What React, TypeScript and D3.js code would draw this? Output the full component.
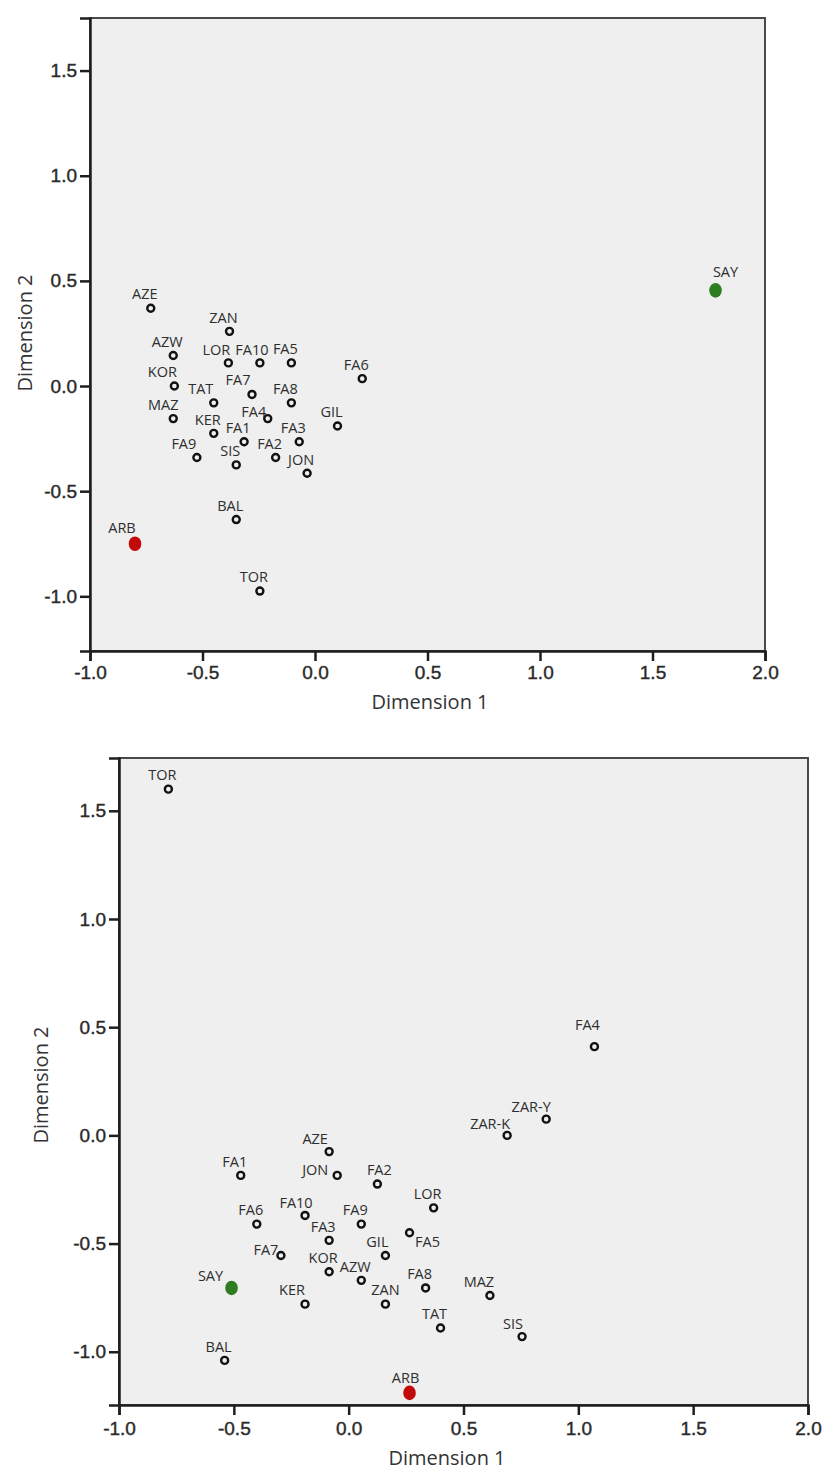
import * as d3 from "d3";
import { useEffect, useRef } from "react";

// first MDS configuration (top plot)
const topNames = ["AZE", "ZAN", "AZW", "LOR", "FA10", "FA5", "FA6", "KOR", "TAT", "FA7", "FA8", "MAZ", "FA4", "GIL", "KER", "FA1", "FA3", "FA9", "FA2", "SIS", "JON", "BAL", "ARB", "TOR", "SAY"];
const topDim1 = [-0.73, -0.38, -0.63, -0.385, -0.245, -0.105, 0.21, -0.625, -0.45, -0.28, -0.105, -0.63, -0.21, 0.1, -0.45, -0.315, -0.07, -0.525, -0.175, -0.35, -0.035, -0.35, -0.8, -0.245, 1.78];
const topDim2 = [0.37, 0.26, 0.145, 0.11, 0.11, 0.11, 0.035, 0.0, -0.08, -0.04, -0.08, -0.155, -0.155, -0.19, -0.225, -0.265, -0.265, -0.34, -0.34, -0.375, -0.415, -0.635, -0.75, -0.975, 0.455];

// second MDS configuration (bottom plot)
const bottomNames = ["TOR", "FA4", "ZAR-Y", "ZAR-K", "AZE", "FA1", "JON", "FA2", "LOR", "FA10", "FA6", "FA9", "FA5", "FA3", "GIL", "FA7", "KOR", "AZW", "FA8", "SAY", "MAZ", "KER", "ZAN", "TAT", "SIS", "BAL", "ARB"];
const bottomDim1 = [-0.785, 1.07, 0.86, 0.69, -0.085, -0.47, -0.05, 0.125, 0.37, -0.19, -0.4, 0.055, 0.265, -0.085, 0.16, -0.295, -0.085, 0.055, 0.335, -0.51, 0.615, -0.19, 0.16, 0.4, 0.755, -0.54, 0.265];
const bottomDim2 = [1.6, 0.41, 0.075, 0.0, -0.075, -0.185, -0.185, -0.225, -0.335, -0.37, -0.41, -0.41, -0.45, -0.485, -0.555, -0.555, -0.63, -0.67, -0.705, -0.705, -0.74, -0.78, -0.78, -0.89, -0.93, -1.04, -1.19];

const xTicks = [-1.0, -0.5, 0.0, 0.5, 1.0, 1.5, 2.0];
const yTicks = [-1.0, -0.5, 0.0, 0.5, 1.0, 1.5];

// highlighted objects
const highlight: Record<string, string> = { SAY: "#2f7d22", ARB: "#c20a0a" };

// label nudges [dx, dy] where the default spot would collide
const topNudge: Record<string, [number, number]> = {
  LOR: [-12, -13], KOR: [-12, -14], TAT: [-13, -14], FA7: [-14, -15], FA4: [-14, -7],
  FA9: [-13, -14], MAZ: [-10, -14], FA10: [-8, -13], ARB: [-13, -16], SAY: [10, -19],
};
const bottomNudge: Record<string, [number, number]> = {
  JON: [-22, -6], FA2: [2, -14], FA5: [18, 9], FA7: [-15, -6], SAY: [-21, -12],
  MAZ: [-11, -14], "ZAR-Y": [-15, -12], "ZAR-K": [-17, -12], ZAN: [0, -14], KER: [-13, -14],
  FA4: [-7, -22], AZE: [-14, -13], FA10: [-9, -13], GIL: [-8, -14], SIS: [-9, -13], ARB: [-4, -15],
};

interface PlotProps {
  names: string[];
  dim1: number[];
  dim2: number[];
  nudge: Record<string, [number, number]>;
  box: { left: number; right: number; top: number; bottom: number };
  yDomain: [number, number];
  xTitle: [number, number];
  yTitle: [number, number];
  yPad: number;
  xPad: number;
}

const Plot = ({ names, dim1, dim2, nudge, box, yDomain, xTitle, yTitle, yPad, xPad }: PlotProps) => {
  const ref = useRef<SVGGElement | null>(null);

  useEffect(() => {
    if (!ref.current) return;
    const g = d3.select(ref.current);
    g.selectAll("*").remove();

    const x = d3.scaleLinear().domain([-1, 2]).range([box.left, box.right]);
    const y = d3.scaleLinear().domain(yDomain).range([box.bottom, box.top]);
    const fmt = (d: d3.NumberValue) => (+d).toFixed(1);

    g.append("rect")
      .attr("x", box.left)
      .attr("y", box.top)
      .attr("width", box.right - box.left)
      .attr("height", box.bottom - box.top)
      .attr("fill", "#efefef")
      .attr("stroke", "#4a4a4a")
      .attr("stroke-width", 2);

    const xAxis = g
      .append("g")
      .attr("transform", `translate(0,${box.bottom})`)
      .call(d3.axisBottom(x).tickValues(xTicks).tickSize(10).tickPadding(xPad).tickFormat(fmt));
    const yAxis = g
      .append("g")
      .attr("transform", `translate(${box.left},0)`)
      .call(d3.axisLeft(y).tickValues(yTicks).tickSize(10).tickPadding(yPad).tickFormat(fmt));

    [xAxis, yAxis].forEach((a) => {
      a.select(".domain").attr("stroke", "#1e1e1e").attr("stroke-width", 2.5);
      a.selectAll(".tick line").attr("stroke", "#1e1e1e").attr("stroke-width", 2.5);
      a.selectAll(".tick text")
        .attr("fill", "#2a2a2a")
        .attr("stroke", "#2a2a2a")
        .attr("stroke-width", 0.4)
        .attr("font-family", "'Liberation Sans', Arial, sans-serif")
        .attr("font-size", 19);
    });

    const data = names.map((name, i) => ({ name, d1: dim1[i], d2: dim2[i] }));

    const pts = g.append("g");
    pts
      .selectAll("circle")
      .data(data.filter((d) => !highlight[d.name]))
      .join("circle")
      .attr("cx", (d) => x(d.d1))
      .attr("cy", (d) => y(d.d2))
      .attr("r", 3.5)
      .attr("fill", "none")
      .attr("stroke", "#111")
      .attr("stroke-width", 2.4);
    pts
      .selectAll("ellipse")
      .data(data.filter((d) => highlight[d.name]))
      .join("ellipse")
      .attr("cx", (d) => x(d.d1))
      .attr("cy", (d) => y(d.d2))
      .attr("rx", 6.3)
      .attr("ry", 7.3)
      .attr("fill", (d) => highlight[d.name]);

    g.append("g")
      .selectAll("text")
      .data(data)
      .join("text")
      .attr("x", (d) => x(d.d1) + (nudge[d.name] ? nudge[d.name][0] : -6))
      .attr("y", (d) => y(d.d2) + (nudge[d.name] ? nudge[d.name][1] : -14))
      .attr("dy", "0.36em")
      .attr("text-anchor", "middle")
      .attr("font-family", "'Open Sans', 'Noto Sans', sans-serif")
      .attr("font-size", 14.5)
      .attr("fill", "#2e2e2e")
      .text((d) => d.name);

    g.append("text")
      .attr("x", xTitle[0])
      .attr("y", xTitle[1])
      .attr("dy", "0.36em")
      .attr("text-anchor", "middle")
      .attr("font-family", "'Open Sans', 'Noto Sans', sans-serif")
      .attr("font-size", 20)
      .attr("fill", "#333")
      .text("Dimension 1");

    g.append("text")
      .attr("transform", `translate(${yTitle[0]},${yTitle[1]}) rotate(-90)`)
      .attr("dy", "0.36em")
      .attr("text-anchor", "middle")
      .attr("font-family", "'Open Sans', 'Noto Sans', sans-serif")
      .attr("font-size", 20)
      .attr("fill", "#333")
      .text("Dimension 2");
  }, [names, dim1, dim2, nudge, box, yDomain, xTitle, yTitle, yPad, xPad]);

  return <g ref={ref} />;
};

export default function App() {
  return (
    <svg
      width={836}
      height={1481}
      style={{ position: "absolute", left: 0, top: 0, background: "#fff" }}
    >
      <Plot
        names={topNames}
        dim1={topDim1}
        dim2={topDim2}
        nudge={topNudge}
        box={{ left: 90, right: 765, top: 18, bottom: 651 }}
        yDomain={[-1.26, 1.75]}
        xTitle={[430, 702]}
        yTitle={[25, 333]}
        yPad={3}
        xPad={5}
      />
      <Plot
        names={bottomNames}
        dim1={bottomDim1}
        dim2={bottomDim2}
        nudge={bottomNudge}
        box={{ left: 119, right: 808, top: 758, bottom: 1405 }}
        yDomain={[-1.246, 1.744]}
        xTitle={[447, 1458]}
        yTitle={[41, 1085]}
        yPad={3}
        xPad={7}
      />
    </svg>
  );
}
